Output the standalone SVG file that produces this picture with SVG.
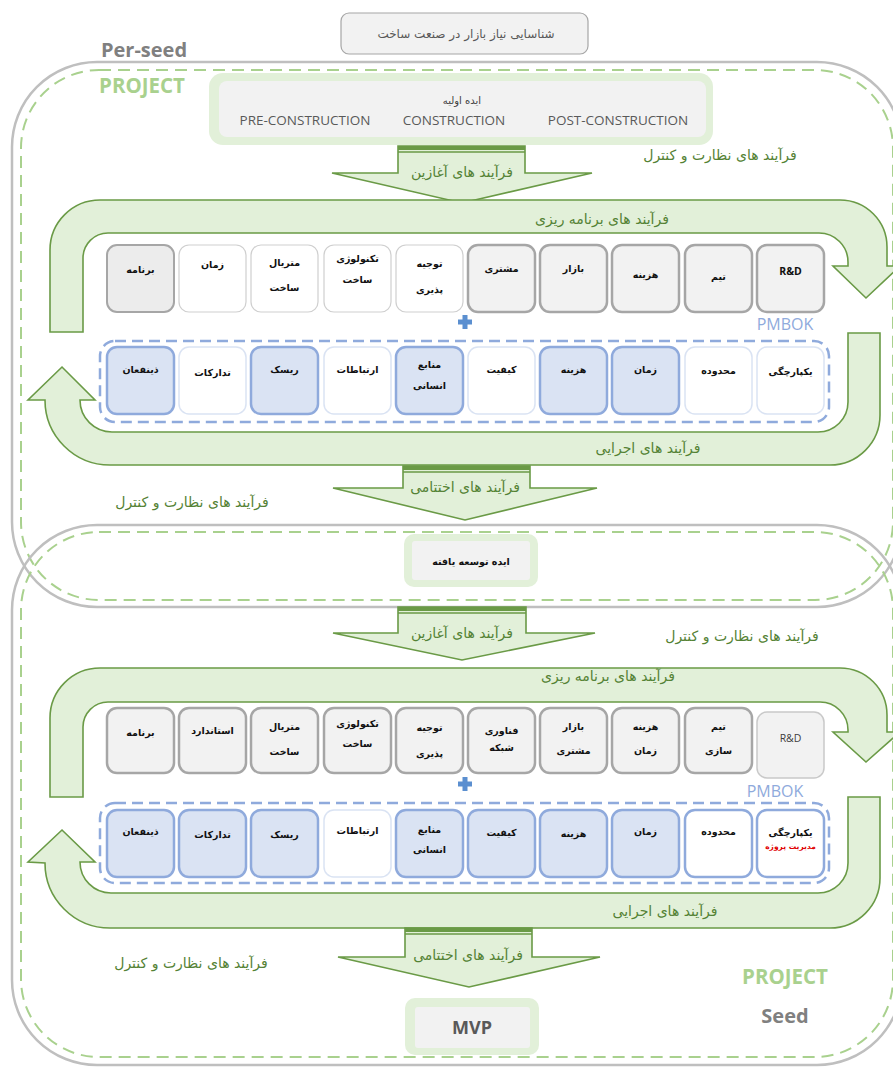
<svg xmlns="http://www.w3.org/2000/svg" width="893" height="1068" viewBox="0 0 893 1068">
  <style>
    .fa { font-family: "DejaVu Sans", "Noto Sans", sans-serif; text-anchor: middle; }
    .lat { font-family: "Open Sans", "Liberation Sans", sans-serif; text-anchor: middle; }
    .cell { font-size: 9.5px; font-weight: bold; fill: #111; }
    .flow { font-size: 14px; fill: #548235; }
    .outer { fill: none; stroke: #bfbfbf; stroke-width: 2.5; }
    .zone { fill: none; stroke: #a9d18e; stroke-width: 2; stroke-dasharray: 12 7; }
    .pmbok { fill: none; stroke: #8faadc; stroke-width: 2.5; stroke-dasharray: 11 6; }
    .arrow { fill: #e2f0d9; stroke: #6a9a46; stroke-width: 1.6; stroke-linejoin: miter; }
    .g-thick { fill: #f2f2f2; stroke: #a6a6a6; stroke-width: 2.5; }
    .g-plan { fill: #ececec; stroke: #a6a6a6; stroke-width: 2; }
    .w-thin { fill: #ffffff; stroke: #cfcfcf; stroke-width: 1.2; }
    .b-fill { fill: #dae3f3; stroke: #8faadc; stroke-width: 2.5; }
    .b-thin { fill: #ffffff; stroke: #dae3f3; stroke-width: 1.5; }
    .b-line { fill: #ffffff; stroke: #8faadc; stroke-width: 2.5; }
    .halo { fill: #e2f0d9; }
    .core { fill: #f2f2f2; }
    .plus { fill: #5b8fd0; }
    .phase { font-size: 13.5px; fill: #595959; }
  </style>

  <!-- stage frames -->
  <g id="stage-preseed">
    <rect class="outer" x="12" y="62" width="890" height="545" rx="85"/>
    <rect class="zone" x="21" y="70" width="872" height="530" rx="78"/>
    <text class="lat" x="144" y="57" font-size="20" font-weight="bold" fill="#808080">Per-seed</text>
    <text class="lat" x="142" y="93" font-size="20.5" font-weight="bold" fill="#a9d18e">PROJECT</text>
  </g>
  <g id="stage-seed">
    <rect class="outer" x="12" y="525" width="890" height="540" rx="85"/>
    <rect class="zone" x="21" y="532" width="872" height="525" rx="78"/>
    <text class="lat" x="785" y="984" font-size="20.5" font-weight="bold" fill="#a9d18e">PROJECT</text>
    <text class="lat" x="785" y="1023" font-size="20" font-weight="bold" fill="#808080">Seed</text>
  </g>

  <!-- process arrows -->
  <g id="connectors">
    <!-- initiation 1 -->
    <path class="arrow" d="M398 146 L525 146 L525 173 L592 173 L462 203 L332 173 L398 173 Z"/>
    <rect x="398" y="146" width="127" height="4" fill="#6a9a46"/>
    <line x1="398" y1="152" x2="525" y2="152" stroke="#6a9a46" stroke-width="1.5"/>
    <!-- planning 1 -->
    <path class="arrow" d="M50 332 L50 250 A50 50 0 0 1 100 200 L840 200 A47 47 0 0 1 887 247 L887 266 L900 266 L866 298 L833 266 L848 266 L848 262 A29 29 0 0 0 819 233 L108 233 A25 25 0 0 0 83 258 L83 332 Z"/>
    <!-- executing 1 -->
    <path class="arrow" d="M848 333 L880 333 L880 415 A50 50 0 0 1 830 465 L110 465 A65 65 0 0 1 45 400 L28 400 L62 367 L95 400 L80 400 A32 32 0 0 0 112 432 L818 432 A30 30 0 0 0 848 402 Z"/>
    <!-- closing 1 -->
    <path class="arrow" d="M403 466 L530 466 L530 488 L597 488 L465 520 L333 488 L403 488 Z"/>
    <rect x="403" y="466" width="127" height="4" fill="#6a9a46"/>
    <line x1="403" y1="472" x2="530" y2="472" stroke="#6a9a46" stroke-width="1.5"/>

    <!-- initiation 2 -->
    <path class="arrow" d="M398 607 L526 607 L526 633 L595 633 L462 660 L333 633 L398 633 Z"/>
    <rect x="398" y="607" width="128" height="4" fill="#6a9a46"/>
    <line x1="398" y1="613" x2="526" y2="613" stroke="#6a9a46" stroke-width="1.5"/>
    <!-- planning 2 -->
    <path class="arrow" d="M50 797 L50 718 A50 50 0 0 1 100 668 L840 668 A47 47 0 0 1 887 715 L887 732 L900 732 L866 762 L833 732 L848 732 L848 730 A28 28 0 0 0 820 702 L108 702 A25 25 0 0 0 83 727 L83 797 Z"/>
    <!-- executing 2 -->
    <path class="arrow" d="M848 797 L880 797 L880 878 A50 50 0 0 1 830 928 L110 928 A65 65 0 0 1 45 863 L28 862 L62 830 L95 862 L80 862 A31 31 0 0 0 111 893 L818 893 A30 30 0 0 0 848 863 Z"/>
    <!-- closing 2 -->
    <path class="arrow" d="M405 928 L532 928 L532 957 L600 957 L469 987 L338 957 L405 957 Z"/>
    <rect x="405" y="928" width="127" height="4" fill="#6a9a46"/>
    <line x1="405" y1="934" x2="532" y2="934" stroke="#6a9a46" stroke-width="1.5"/>

    <!-- process labels -->
    <text class="fa flow" x="462" y="177">فرآیند های آغازین</text>
    <text class="fa flow" x="602" y="224">فرآیند های برنامه ریزی</text>
    <text class="fa flow" x="648" y="453">فرآیند های اجرایی</text>
    <text class="fa flow" x="465" y="492">فرآیند های اختتامی</text>
    <text class="fa flow" x="720" y="160">فرآیند های نظارت و کنترل</text>
    <text class="fa flow" x="192" y="507">فرآیند های نظارت و کنترل</text>

    <text class="fa flow" x="462" y="638">فرآیند های آغازین</text>
    <text class="fa flow" x="608" y="681">فرآیند های برنامه ریزی</text>
    <text class="fa flow" x="665" y="916">فرآیند های اجرایی</text>
    <text class="fa flow" x="468" y="960">فرآیند های اختتامی</text>
    <text class="fa flow" x="742" y="641">فرآیند های نظارت و کنترل</text>
    <text class="fa flow" x="191" y="968">فرآیند های نظارت و کنترل</text>
  </g>

  <!-- market need -->
  <g id="market-need">
    <rect x="341" y="13" width="247" height="41" rx="8" fill="#f2f2f2" stroke="#a6a6a6" stroke-width="1.2"/>
    <text class="fa" x="466" y="38" font-size="12" fill="#595959">شناسایی نیاز بازار در صنعت ساخت</text>
  </g>

  <!-- initial idea -->
  <g id="initial-idea">
    <rect class="halo" x="209" y="73" width="504" height="72" rx="14"/>
    <rect class="core" x="219" y="81" width="487" height="56" rx="8"/>
    <text class="fa" x="462" y="104" font-size="10" fill="#404040">ایده اولیه</text>
    <text class="lat phase" x="305" y="125">PRE-CONSTRUCTION</text>
    <text class="lat phase" x="454" y="125">CONSTRUCTION</text>
    <text class="lat phase" x="618" y="125">POST-CONSTRUCTION</text>
  </g>

  <!-- developed idea -->
  <g id="developed-idea">
    <rect class="halo" x="404" y="534" width="134" height="53" rx="10"/>
    <rect class="core" x="412" y="541" width="118" height="39" rx="3"/>
    <text class="fa" x="471" y="565" font-size="9.5" font-weight="bold" fill="#111">ایده توسعه یافته</text>
  </g>

  <!-- MVP -->
  <g id="mvp">
    <rect class="halo" x="405" y="998" width="134" height="57" rx="10"/>
    <rect class="core" x="415" y="1007" width="115" height="41" rx="3"/>
    <text class="lat" x="472" y="1034" font-size="18" font-weight="bold" fill="#595959">MVP</text>
  </g>

  <!-- pre-seed planning areas -->
  <g id="ps-plan-program"><rect class="g-plan" x="107" y="245" width="67" height="67" rx="10"/><text class="fa cell" x="140.5" y="273">برنامه</text></g>
  <g id="ps-plan-time"><rect class="w-thin" x="179" y="245" width="67" height="67" rx="10"/><text class="fa cell" x="212.5" y="268">زمان</text></g>
  <g id="ps-plan-material"><rect class="w-thin" x="251" y="245" width="67" height="67" rx="10"/><text class="fa cell" x="284.5" y="266">متریال</text><text class="fa cell" x="284.5" y="291">ساخت</text></g>
  <g id="ps-plan-tech"><rect class="w-thin" x="324" y="245" width="67" height="67" rx="10"/><text class="fa cell" x="357.5" y="262">تکنولوژی</text><text class="fa cell" x="357.5" y="283">ساخت</text></g>
  <g id="ps-plan-feasibility"><rect class="w-thin" x="396" y="245" width="67" height="67" rx="10"/><text class="fa cell" x="429.5" y="267">توجیه</text><text class="fa cell" x="429.5" y="293">پذیری</text></g>
  <g id="ps-plan-customer"><rect class="g-thick" x="468" y="245" width="67" height="67" rx="10"/><text class="fa cell" x="501.5" y="272">مشتری</text></g>
  <g id="ps-plan-market"><rect class="g-thick" x="540" y="245" width="67" height="67" rx="10"/><text class="fa cell" x="573.5" y="272">بازار</text></g>
  <g id="ps-plan-cost"><rect class="g-thick" x="612" y="245" width="67" height="67" rx="10"/><text class="fa cell" x="645.5" y="278">هزینه</text></g>
  <g id="ps-plan-team"><rect class="g-thick" x="685" y="245" width="67" height="67" rx="10"/><text class="fa cell" x="718.5" y="280">تیم</text></g>
  <g id="ps-plan-rnd"><rect class="g-thick" x="757" y="245" width="67" height="67" rx="10"/><text class="lat" x="790.5" y="275" font-size="10.5" font-weight="bold" fill="#111">R&amp;D</text></g>

  <!-- pre-seed PMBOK knowledge areas -->
  <g id="ps-pmbok">
    <path class="plus" d="M462.5 315 h5 v4.5 h4.5 v5 h-4.5 v4.5 h-5 v-4.5 h-4.5 v-5 h4.5 Z"/>
    <text class="lat" x="785" y="330" font-size="16" fill="#8faadc">PMBOK</text>
    <rect class="pmbok" x="100" y="341" width="729" height="81" rx="15"/>
  </g>
  <g id="ps-pm-stakeholders"><rect class="b-fill" x="107" y="347" width="67" height="67" rx="10"/><text class="fa cell" x="140.5" y="373">ذینفعان</text></g>
  <g id="ps-pm-procurement"><rect class="b-thin" x="179" y="347" width="67" height="67" rx="10"/><text class="fa cell" x="212.5" y="376" fill="#7f7f7f">تدارکات</text></g>
  <g id="ps-pm-risk"><rect class="b-fill" x="251" y="347" width="67" height="67" rx="10"/><text class="fa cell" x="284.5" y="373">ریسک</text></g>
  <g id="ps-pm-communications"><rect class="b-thin" x="324" y="347" width="67" height="67" rx="10"/><text class="fa cell" x="357.5" y="373">ارتباطات</text></g>
  <g id="ps-pm-resources"><rect class="b-fill" x="396" y="347" width="67" height="67" rx="10"/><text class="fa cell" x="429.5" y="368">منابع</text><text class="fa cell" x="429.5" y="389">انسانی</text></g>
  <g id="ps-pm-quality"><rect class="b-thin" x="468" y="347" width="67" height="67" rx="10"/><text class="fa cell" x="501.5" y="373">کیفیت</text></g>
  <g id="ps-pm-cost"><rect class="b-fill" x="540" y="347" width="67" height="67" rx="10"/><text class="fa cell" x="573.5" y="373">هزینه</text></g>
  <g id="ps-pm-time"><rect class="b-fill" x="612" y="347" width="67" height="67" rx="10"/><text class="fa cell" x="645.5" y="373">زمان</text></g>
  <g id="ps-pm-scope"><rect class="b-thin" x="685" y="347" width="67" height="67" rx="10"/><text class="fa cell" x="718.5" y="374">محدوده</text></g>
  <g id="ps-pm-integration"><rect class="b-thin" x="757" y="347" width="67" height="67" rx="10"/><text class="fa cell" x="790.5" y="375">یکپارچگی</text></g>

  <!-- seed planning areas -->
  <g id="sd-plan-program"><rect class="g-thick" x="107" y="708" width="67" height="65" rx="10"/><text class="fa cell" x="140.5" y="736">برنامه</text></g>
  <g id="sd-plan-standard"><rect class="g-thick" x="179" y="708" width="67" height="65" rx="10"/><text class="fa cell" x="212.5" y="734">استاندارد</text></g>
  <g id="sd-plan-material"><rect class="g-thick" x="251" y="708" width="67" height="65" rx="10"/><text class="fa cell" x="284.5" y="730">متریال</text><text class="fa cell" x="284.5" y="755">ساخت</text></g>
  <g id="sd-plan-tech"><rect class="g-thick" x="324" y="708" width="67" height="65" rx="10"/><text class="fa cell" x="357.5" y="727">تکنولوژی</text><text class="fa cell" x="357.5" y="747">ساخت</text></g>
  <g id="sd-plan-feasibility"><rect class="g-thick" x="396" y="708" width="67" height="65" rx="10"/><text class="fa cell" x="429.5" y="731">توجیه</text><text class="fa cell" x="429.5" y="757">پذیری</text></g>
  <g id="sd-plan-network"><rect class="g-thick" x="468" y="708" width="67" height="65" rx="10"/><text class="fa cell" x="501.5" y="734">فناوری</text><text class="fa cell" x="501.5" y="751">شبکه</text></g>
  <g id="sd-plan-market"><rect class="g-thick" x="540" y="708" width="67" height="65" rx="10"/><text class="fa cell" x="573.5" y="730">بازار</text><text class="fa cell" x="573.5" y="754">مشتری</text></g>
  <g id="sd-plan-cost"><rect class="g-thick" x="612" y="708" width="67" height="65" rx="10"/><text class="fa cell" x="645.5" y="730">هزینه</text><text class="fa cell" x="645.5" y="754">زمان</text></g>
  <g id="sd-plan-team"><rect class="g-thick" x="685" y="708" width="67" height="65" rx="10"/><text class="fa cell" x="718.5" y="730">تیم</text><text class="fa cell" x="718.5" y="754">سازی</text></g>
  <g id="sd-plan-rnd"><rect x="757" y="712" width="67" height="66" rx="10" fill="#f2f2f2" stroke="#c9c9c9" stroke-width="1.5"/><text class="lat" x="790.5" y="742" font-size="10.5" fill="#404040">R&amp;D</text></g>

  <!-- seed PMBOK knowledge areas -->
  <g id="sd-pmbok">
    <path class="plus" d="M462.5 777 h5 v4.5 h4.5 v5 h-4.5 v4.5 h-5 v-4.5 h-4.5 v-5 h4.5 Z"/>
    <text class="lat" x="775" y="797" font-size="16" fill="#8faadc">PMBOK</text>
    <rect class="pmbok" x="100" y="803" width="729" height="80" rx="15"/>
  </g>
  <g id="sd-pm-stakeholders"><rect class="b-fill" x="107" y="810" width="67" height="67" rx="10"/><text class="fa cell" x="140.5" y="835">ذینفعان</text></g>
  <g id="sd-pm-procurement"><rect class="b-fill" x="179" y="810" width="67" height="67" rx="10"/><text class="fa cell" x="212.5" y="838">تدارکات</text></g>
  <g id="sd-pm-risk"><rect class="b-fill" x="251" y="810" width="67" height="67" rx="10"/><text class="fa cell" x="284.5" y="838">ریسک</text></g>
  <g id="sd-pm-communications"><rect class="b-thin" x="324" y="810" width="67" height="67" rx="10"/><text class="fa cell" x="357.5" y="834">ارتباطات</text></g>
  <g id="sd-pm-resources"><rect class="b-fill" x="396" y="810" width="67" height="67" rx="10"/><text class="fa cell" x="429.5" y="833">منابع</text><text class="fa cell" x="429.5" y="853">انسانی</text></g>
  <g id="sd-pm-quality"><rect class="b-fill" x="468" y="810" width="67" height="67" rx="10"/><text class="fa cell" x="501.5" y="836">کیفیت</text></g>
  <g id="sd-pm-cost"><rect class="b-fill" x="540" y="810" width="67" height="67" rx="10"/><text class="fa cell" x="573.5" y="837">هزینه</text></g>
  <g id="sd-pm-time"><rect class="b-fill" x="612" y="810" width="67" height="67" rx="10"/><text class="fa cell" x="645.5" y="835">زمان</text></g>
  <g id="sd-pm-scope"><rect class="b-line" x="685" y="810" width="67" height="67" rx="10"/><text class="fa cell" x="718.5" y="835">محدوده</text></g>
  <g id="sd-pm-integration"><rect class="b-line" x="757" y="810" width="67" height="67" rx="10"/><text class="fa cell" x="790.5" y="836">یکپارچگی</text><text class="fa" x="790.5" y="849" font-size="7.5" font-weight="bold" fill="#e00000">مدیریت پروژه</text></g>
</svg>
